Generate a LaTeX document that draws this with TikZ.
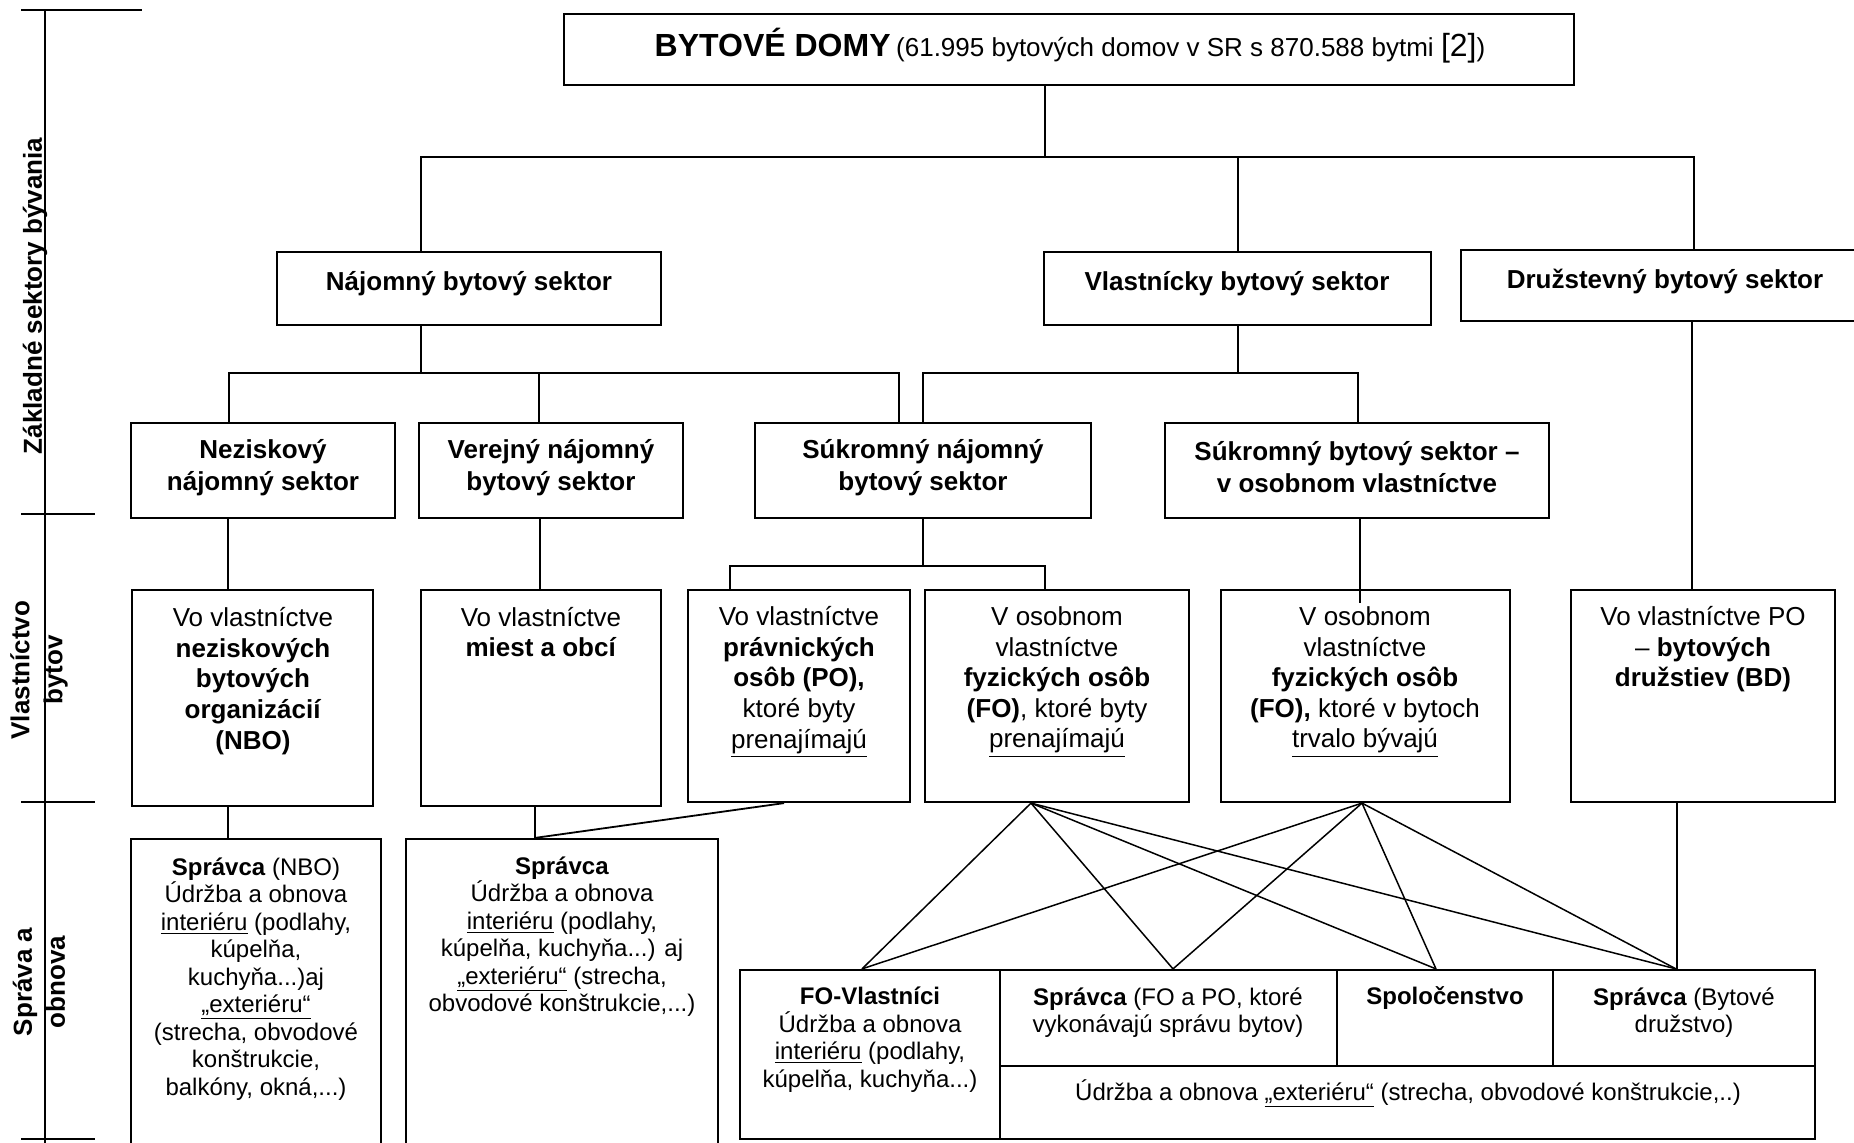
\documentclass[tikz,border=0pt]{standalone}
\usepackage{fontspec}
\setmainfont{Liberation Sans}
\usetikzlibrary{fit}
\begin{document}
\begin{tikzpicture}[x=0.5pt,y=-0.5pt,
  box/.style={draw, line width=1.1pt, inner sep=0pt, fit={#1}},
  hd/.style={font=\fontsize{13}{16}\selectfont\bfseries, align=center, inner sep=0pt},
  tt/.style={font=\fontsize{13}{15.3}\selectfont, align=center, inner sep=0pt},
  tf/.style={font=\fontsize{12}{13.75}\selectfont, align=center, inner sep=0pt},
  ax/.style={font=\fontsize{13}{16.5}\selectfont\bfseries, align=center, rotate=90, inner sep=0pt},
  conn/.style={line width=0.9pt},
  thinc/.style={line width=0.75pt},
  axl/.style={line width=1pt}]
\clip (0,0) rectangle (1854,1142);
\fill[white] (0,0) rectangle (1854,1142);

% left axis
\draw[axl] (45,9.5) -- (45,1150);
\draw[axl] (21,9.5) -- (142,9.5);
\draw[axl] (21,514) -- (95,514);
\draw[axl] (21,802) -- (95,802);
\draw[axl] (21,1139) -- (95,1139);
\node[ax] (axA) at (35,296) {Základné sektory bývania};
\node[ax] (axB) at (39,670) {Vlastníctvo\\bytov};
\node[ax] (axC) at (39,982) {Správa a\\obnova};

% boxes
\node[box={(564,14) (1574,85)}] (top) {};
\node[box={(277,252) (661,325)}] (naj) {};
\node[box={(1044,252) (1431,325)}] (vla) {};
\node[box={(1461,250) (1880,321)}] (dru) {};
\node[box={(131,423) (395,518)}] (nez) {};
\node[box={(419,423) (683,518)}] (ver) {};
\node[box={(755,423) (1091,518)}] (suk) {};
\node[box={(1165,423) (1549,518)}] (sob) {};
\node[box={(132,590) (373,806)}] (nbo) {};
\node[box={(421,590) (661,806)}] (mie) {};
\node[box={(688,590) (910,802)}] (po) {};
\node[box={(925,590) (1189,802)}] (fo) {};
\node[box={(1221,590) (1510,802)}] (trv) {};
\node[box={(1571,590) (1835,802)}] (bd) {};
\node[box={(131,839) (381,1160)}] (snbo) {};
\node[box={(406,839) (718,1160)}] (smie) {};
\node[box={(740,970) (1000,1139)}] (cFOV) {};
\node[box={(1000,970) (1337,1066)}] (cSFP) {};
\node[box={(1337,970) (1553,1066)}] (cSPO) {};
\node[box={(1553,970) (1815,1066)}] (cSBD) {};
\node[box={(1000,1066) (1815,1139)}] (cEXT) {};

% texts
\node[inner sep=0pt] (topt) at (1070,46) {{\fontsize{16}{19}\selectfont\bfseries BYTOVÉ DOMY} {\fontsize{13}{15}\selectfont (61.995 bytových domov v SR s 870.588 bytmi {\fontsize{16}{19}\selectfont [2]})}};
\node[hd] (najt) at (469,284) {Nájomný bytový sektor};
\node[hd] (vlat) at (1237,284) {Vlastnícky bytový sektor};
\node[hd] (drut) at (1665,281) {Družstevný bytový sektor};
\node[hd] (nezt) at (263,467.5) {Neziskový\\nájomný sektor};
\node[hd] (vert) at (551,467.5) {Verejný nájomný\\bytový sektor};
\node[hd] (sukt) at (923,467.5) {Súkromný nájomný\\bytový sektor};
\node[hd] (sobt) at (1357,467.5) {Súkromný bytový sektor –\\v osobnom vlastníctve};

\node[tt] (nbot) at (253,681) {Vo vlastníctve\\\textbf{neziskových}\\\textbf{bytových}\\\textbf{organizácií}\\\textbf{(NBO)}};
\node[tt] (miet) at (541,632) {Vo vlastníctve\\\textbf{miest a obcí}};
\node[tt] (pot) at (799,682) {Vo vlastníctve\\\textbf{právnických}\\\textbf{osôb (PO),}\\ktoré byty\\\underline{prenajímajú}};
\node[tt] (fot) at (1057,682) {V osobnom\\vlastníctve\\\textbf{fyzických osôb}\\\textbf{(FO)}, ktoré byty\\\underline{prenajímajú}};
\node[tt] (trvt) at (1365,682) {V osobnom\\vlastníctve\\\textbf{fyzických osôb}\\\textbf{(FO),} ktoré v bytoch\\\underline{trvalo bývajú}};
\node[tt] (bdt) at (1703,649.5) {Vo vlastníctve PO\\– \textbf{bytových}\\\textbf{družstiev (BD)}};

\node[tf] (snbot) at (256,979) {\textbf{Správca} (NBO)\\Údržba a obnova\\\underline{interiéru} (podlahy,\\kúpelňa,\\kuchyňa...)aj\\\underline{„exteriéru“}\\(strecha, obvodové\\konštrukcie,\\balkóny, okná,...)};
\node[tf] (smiet) at (562,936.5) {\textbf{Správca}\\Údržba a obnova\\\underline{interiéru} (podlahy,\\kúpelňa, kuchyňa...) aj\\\underline{„exteriéru“} (strecha,\\obvodové konštrukcie,...)};
\node[tf] (cFOVt) at (870,1039.5) {\textbf{FO-Vlastníci}\\Údržba a obnova\\\underline{interiéru} (podlahy,\\kúpelňa, kuchyňa...)};
\node[tf] (cSFPt) at (1168,1012.5) {\textbf{Správca} (FO a PO, ktoré\\vykonávajú správu bytov)};
\node[tf] (cSPOt) at (1445,998.5) {\textbf{Spoločenstvo}};
\node[tf] (cSBDt) at (1684,1012.5) {\textbf{Správca} (Bytové\\družstvo)};
\node[tf] (cEXTt) at (1408,1093.5) {Údržba a obnova \underline{„exteriéru“} (strecha, obvodové konštrukcie,..)};

% connectors level 0-1
\coordinate (busA) at (1045,157);
\coordinate (bA1) at (421,157);
\coordinate (bA2) at (1238,157);
\coordinate (bA3) at (1694,157);
\draw[conn] (top.south -| busA) -- (busA);
\draw[conn] (naj.north -| bA1) -- (bA1) -- (bA3) -- (dru.north -| bA3);
\draw[conn] (bA2) -- (vla.north -| bA2);

% level 1-2
\coordinate (bB0) at (421,373);
\coordinate (bB1) at (229,373);
\coordinate (bB2) at (539,373);
\coordinate (bB3) at (899,373);
\draw[conn] (naj.south -| bB0) -- (bB0);
\draw[conn] (nez.north -| bB1) -- (bB1) -- (bB3) -- (suk.north -| bB3);
\draw[conn] (bB2) -- (ver.north -| bB2);
\coordinate (bC0) at (1238,373);
\coordinate (bC1) at (923,373);
\coordinate (bC2) at (1358,373);
\draw[conn] (vla.south -| bC0) -- (bC0);
\draw[conn] (suk.north -| bC1) -- (bC1) -- (bC2) -- (sob.north -| bC2);

% level 2-3
\coordinate (xD1) at (228,0);
\coordinate (xD2) at (540,0);
\draw[conn] (nez.south -| xD1) -- (nbo.north -| xD1);
\draw[conn] (ver.south -| xD2) -- (mie.north -| xD2);
\coordinate (bE0) at (923,566);
\coordinate (bE1) at (730,566);
\coordinate (bE2) at (1045,566);
\draw[conn] (suk.south -| bE0) -- (bE0);
\draw[conn] (po.north -| bE1) -- (bE1) -- (bE2) -- (fo.north -| bE2);
\coordinate (xF) at (1360,603);
\draw[conn] (sob.south -| xF) -- (xF);
\coordinate (xG) at (1692,0);
\draw[conn] (dru.south -| xG) -- (bd.north -| xG);

% level 3-4
\coordinate (xH1) at (228,0);
\coordinate (xH2) at (535,0);
\coordinate (xH3) at (784,0);
\draw[conn] (nbo.south -| xH1) -- (snbo.north -| xH1);
\draw[conn] (mie.south -| xH2) -- (smie.north -| xH2);
\draw[conn] (po.south -| xH3) -- (smie.north -| xH2);
\coordinate (fo0) at (1031,0);
\coordinate (tr0) at (1362,0);
\coordinate (t1) at (862,0);
\coordinate (t2) at (1173,0);
\coordinate (t3) at (1436,0);
\coordinate (t4) at (1676,0);
\foreach \t/\c in {t1/cFOV,t2/cSFP,t3/cSPO,t4/cSBD}{
  \draw[thinc] (fo.south -| fo0) -- (\c.north -| \t);
  \draw[thinc] (trv.south -| tr0) -- (\c.north -| \t);
}
\coordinate (xJ) at (1677,0);
\draw[conn] (bd.south -| xJ) -- (cSBD.north -| xJ);
\end{tikzpicture}
\end{document}
